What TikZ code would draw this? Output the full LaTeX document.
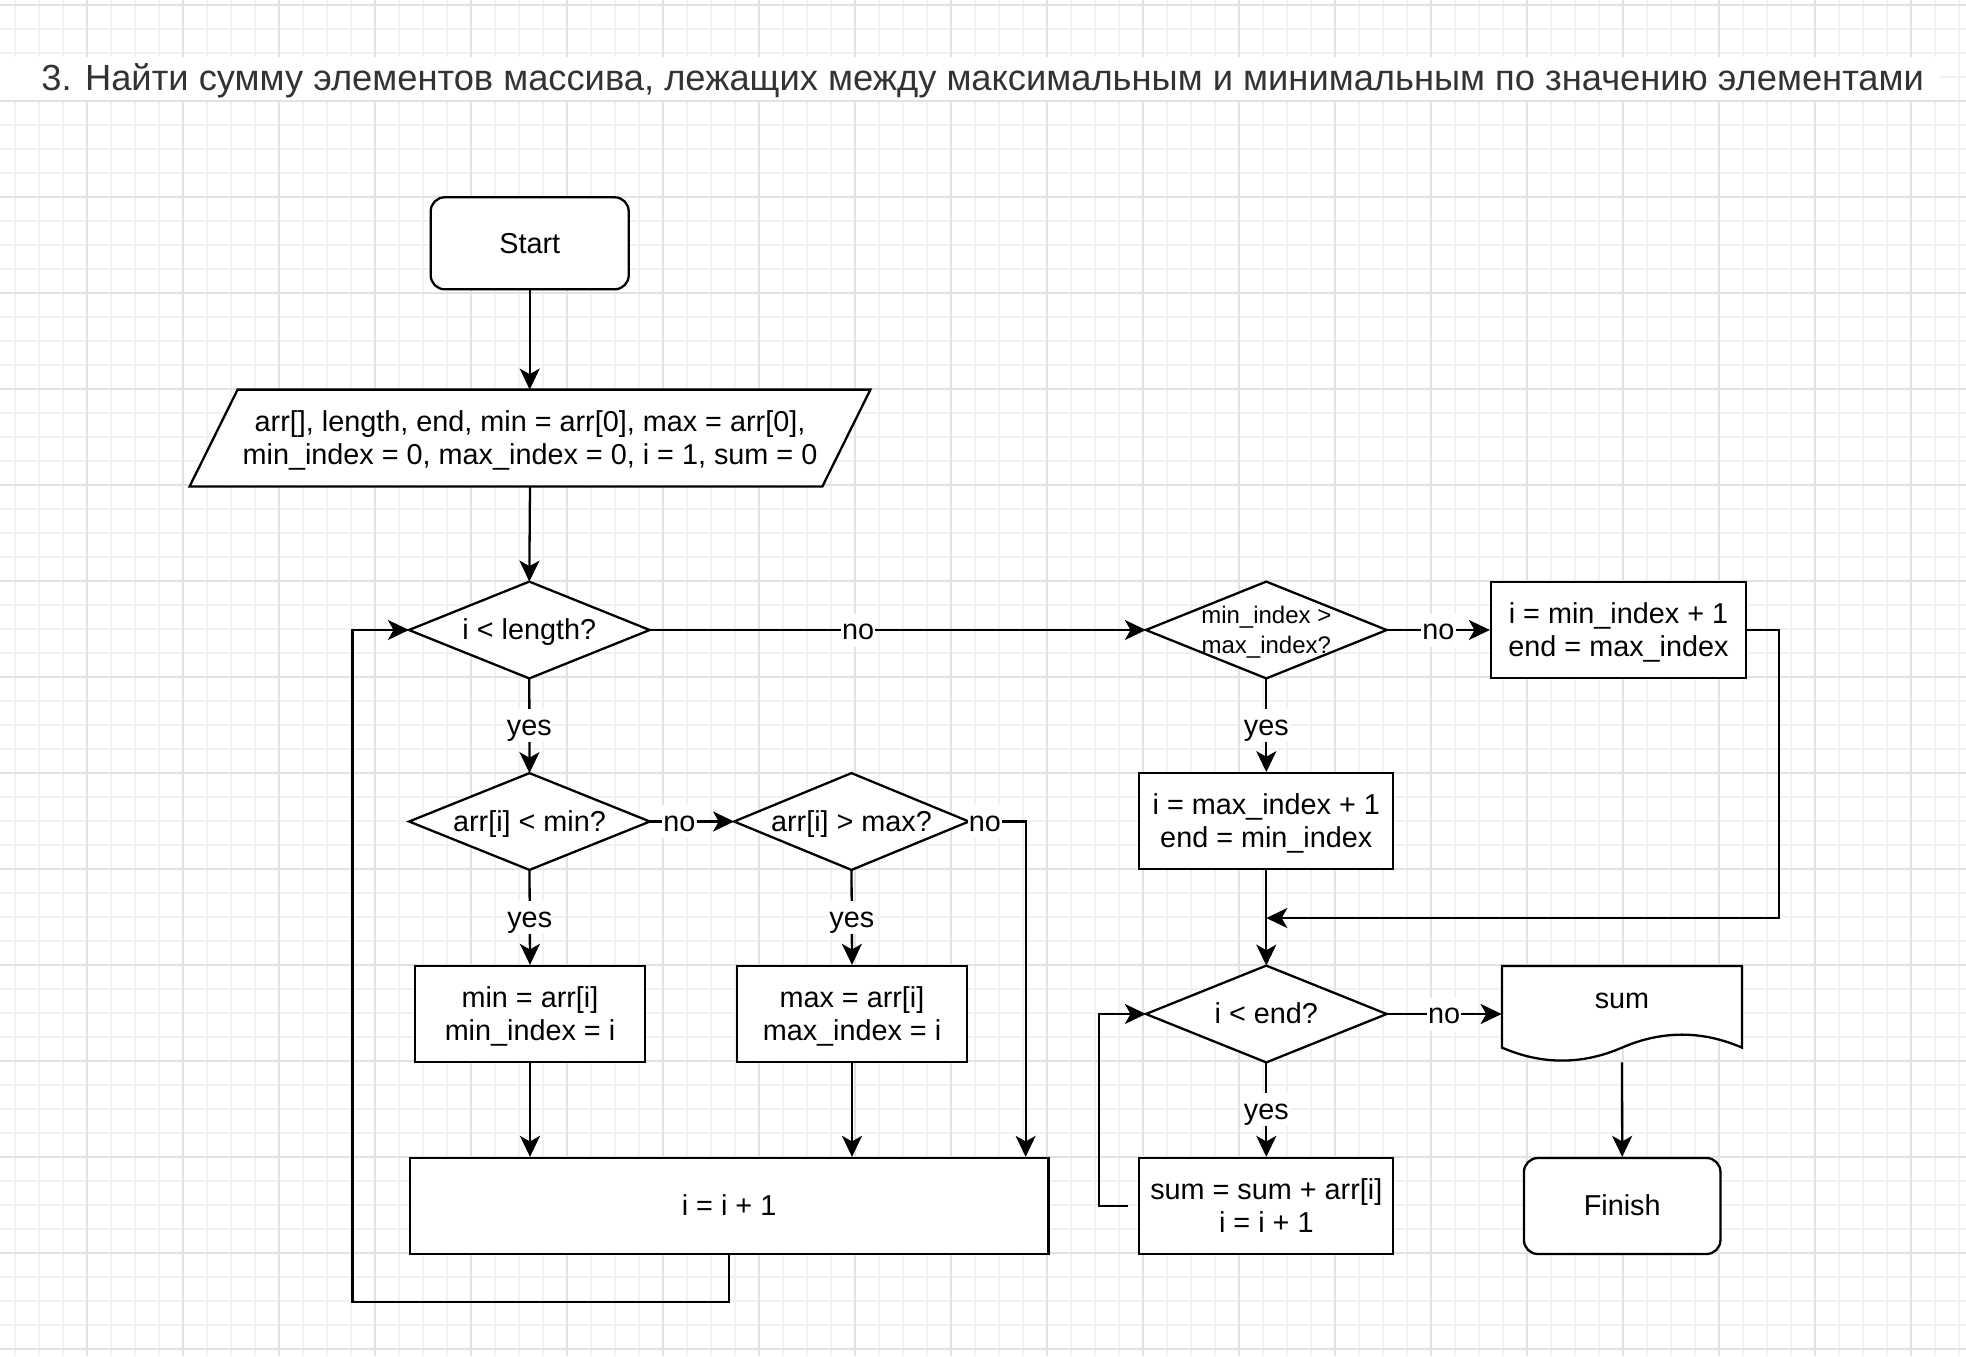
\documentclass[tikz,border=0pt]{standalone}
\usepackage{fontspec}
\setmainfont{Liberation Sans}
\usetikzlibrary{arrows.meta,calc}
\definecolor{titlegray}{HTML}{333333}
\definecolor{gridmin}{HTML}{F2F2F2}
\definecolor{gridmaj}{HTML}{E2E2E2}
\newcommand\nf{\fontsize{14.4}{16.5}\selectfont}
\newcommand\smallfnt{\fontsize{12}{15}\selectfont}
\newcommand\ls{\rule[-3.26pt]{0pt}{16.5pt}}
\newcommand\lss{\rule[-3.34pt]{0pt}{15pt}}
\begin{document}
\begin{tikzpicture}[x=0.5pt,y=-0.5pt,
  gridminor/.style={draw=gridmin,line width=0.8pt},
  gridmajor/.style={draw=gridmaj,line width=0.9pt},
  shapeline/.style={draw=black,line width=1.15pt,fill=white,line join=miter},
  boxnode/.style={shapeline,inner sep=0pt,minimum height=48pt,align=center,font=\nf},
  termnode/.style={boxnode,rounded corners=7pt},
  decnode/.style={inner sep=0pt,minimum width=120pt,minimum height=48pt,align=center,font=\nf},
  txt/.style={inner sep=0pt,align=center,font=\nf},
  lbl/.style={fill=white,inner xsep=0.6pt,inner ysep=0pt,font=\nf},
  arr/.style={draw=black,line width=1.15pt,-{Stealth[length=10.5pt,width=10pt,inset=2.8pt]}}]
\useasboundingbox (0,0) rectangle (1966,1356);
\fill[white] (0,0) rectangle (1966,1356);
% grid
\foreach \i in {0,...,81}{\draw[gridminor] ({14.7+24*\i},0) -- ({14.7+24*\i},1356);}
\foreach \i in {0,...,56}{\draw[gridminor] (0,{4.7+24*\i}) -- (1966,{4.7+24*\i});}
\foreach \i in {0,...,19}{\draw[gridmajor] ({86.7+96*\i},0) -- ({86.7+96*\i},1356);}
\foreach \i in {0,...,14}{\draw[gridmajor] (0,{4.7+96*\i}) -- (1966,{4.7+96*\i});}
% title band and title
\fill[white] (0,57) rectangle (1940,100);
\node[anchor=base west,inner sep=0pt,font=\fontsize{18.15}{21.6}\selectfont,text=titlegray] (title) at (41,90.7)
  {3. Найти сумму элементов массива, лежащих между максимальным и минимальным по значению элементами};

% nodes
\node[termnode,minimum width=99pt,minimum height=46pt] (start) at (529.7,243.3) {\ls Start};
\node[decnode,minimum width=316pt] (inp) at (530,438) {};
\draw[shapeline] ($(inp.north west)+(24,0)$) -- ($(inp.north east)+(24,0)$) -- ($(inp.south east)+(-24,0)$) -- ($(inp.south west)+(-24,0)$) -- cycle;
\node[txt] (inptext) at (inp.center) {\ls arr[], length, end, min = arr[0], max = arr[0],\\\ls min\_index = 0, max\_index = 0, i = 1, sum = 0};

\node[decnode] (d1) at (529.3,630) {};
\node[decnode] (d2) at (529.5,821.5) {};
\node[decnode,minimum width=117pt] (d3) at (851.5,821.5) {};
\node[decnode] (d4) at (1266.3,630) {};
\node[decnode] (d5) at (1266.3,1014) {};
\foreach \d in {d1,d2,d3,d4,d5}{
  \draw[shapeline] (\d.north) -- (\d.east) -- (\d.south) -- (\d.west) -- cycle;}
\node[txt] (d1t) at (d1.center) {\ls i < length?};
\node[txt] (d2t) at (d2.center) {\ls arr[i] < min?};
\node[txt] (d3t) at (d3.center) {\ls arr[i] > max?};
\node[txt,font=\smallfnt] (d4t) at (d4.center) {\lss min\_index >\\\lss max\_index?};
\node[txt] (d5t) at (d5.center) {\ls i < end?};

\node[boxnode,minimum width=115pt] (minb) at (530,1014) {\ls min = arr[i]\\\ls min\_index = i};
\node[boxnode,minimum width=115pt] (maxb) at (852,1014) {\ls max = arr[i]\\\ls max\_index = i};
\node[boxnode,minimum width=319.4pt] (inc) at (729.1,1206) {\ls i = i + 1};
\node[boxnode,minimum width=127.5pt] (r1) at (1618.5,630) {\ls i = min\_index + 1\\\ls end = max\_index};
\node[boxnode,minimum width=127pt] (r2) at (1266.3,821.3) {\ls i = max\_index + 1\\\ls end = min\_index};
\node[boxnode,minimum width=127pt] (r3) at (1266.3,1206) {\ls sum = sum + arr[i]\\\ls i = i + 1};
\node[termnode,minimum width=98.25pt] (fin) at (1622.2,1206) {\ls Finish};

% document shape
\draw[shapeline] (1502,966) -- (1742,966) -- (1742,1047.6)
  .. controls (1702,1030.3) and (1662,1030.3) .. (1622,1047.6)
  .. controls (1582,1064.9) and (1542,1064.9) .. (1502,1047.6) -- cycle;
\node[decnode,label={[txt,yshift=7.5pt]center:\ls sum}] (doc) at (1622,1014) {};

% connectors
\draw[arr] (start.south) -- (start.south |- inp.north);
\draw[arr] (inp.south) -- (d1.north);
\draw[arr] (d1.south) -- node[lbl]{\ls yes} (d2.north);
\draw[arr] (d2.south) -- node[lbl]{\ls yes} (minb.north);
\draw[arr] (d3.south) -- node[lbl]{\ls yes} (maxb.north);
\draw[arr] (d2.east) -- node[lbl,pos=0.35]{\ls no} (d3.west);
\draw[arr] (d3.east) -| node[lbl,pos=0.14]{\ls no} ($(inc.north east)+(-24,0)$);
\draw[arr] (minb.south) -- (minb.south |- inc.north);
\draw[arr] (maxb.south) -- (maxb.south |- inc.north);
\coordinate (loopL) at (352.5,1302);
\draw[arr] (inc.south) |- (loopL) |- (d1.west);
\draw[arr] (d1.east) -- node[lbl,pos=0.42]{\ls no} (d4.west);
\draw[arr] (d4.east) -- node[lbl]{\ls no} (r1.west);
\draw[arr] (d4.south) -- node[lbl]{\ls yes} (r2.north);
\draw[arr] (r2.south) -- (d5.north);
\coordinate (join) at ($(r2.south)!0.5!(d5.north)$);
\draw[arr] (r1.east) -- ++(32,0) |- (join);
\draw[arr] (d5.east) -- node[lbl]{\ls no} (doc.west);
\draw[arr] (d5.south) -- node[lbl]{\ls yes} (r3.north);
\draw[arr] ($(r3.west)+(-10,0)$) -- ++(-29,0) |- (d5.west);
\draw[arr] (doc.south) -- (fin.north);
\end{tikzpicture}
\end{document}
